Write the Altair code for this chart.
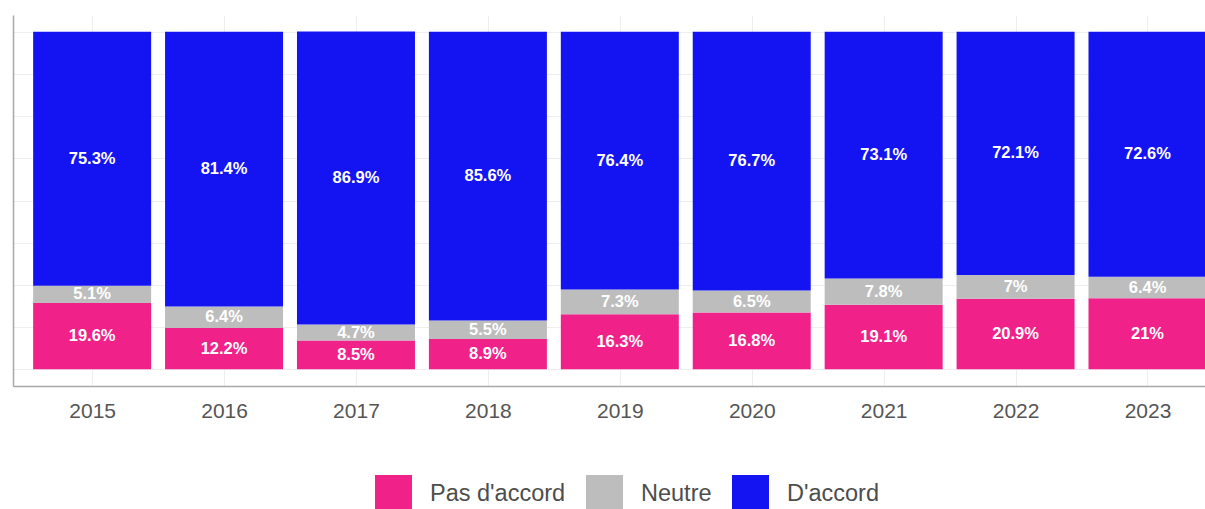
import altair as alt
import pandas as pd

# Survey answers per year (percent)
years = [2015, 2016, 2017, 2018, 2019, 2020, 2021, 2022, 2023]
pas_daccord = [19.6, 12.2, 8.5, 8.9, 16.3, 16.8, 19.1, 20.9, 21.0]
neutre = [5.1, 6.4, 4.7, 5.5, 7.3, 6.5, 7.8, 7.0, 6.4]
daccord = [75.3, 81.4, 86.9, 85.6, 76.4, 76.7, 73.1, 72.1, 72.6]

categories = ["Pas d'accord", "Neutre", "D'accord"]
colors = ["#F0228A", "#BDBDBD", "#1414F2"]

rows = []
for i, y in enumerate(years):
    for rank, (cat, series) in enumerate(zip(categories, [pas_daccord, neutre, daccord])):
        v = series[i]
        rows.append({"year": y, "answer": cat, "rank": rank, "value": v,
                     "label": f"{v:g}%"})
df = pd.DataFrame(rows)

font = "Liberation Sans"

base = alt.Chart(df).transform_stack(
    stack="value",
    groupby=["year"],
    as_=["y0", "y1"],
    sort=[alt.SortField("rank", order="ascending")],
    offset="zero",
).transform_calculate(mid="(datum.y0 + datum.y1) / 2")

x_enc = alt.X(
    "year:Q",
    scale=alt.Scale(domain=[2014.438, 2023.398], nice=False, zero=False),
    axis=alt.Axis(
        values=years, format="d", title=None, ticks=False,
        labelFontSize=21, labelColor="#555555", labelFont=font, labelPadding=14,
        domainColor="#A8A8A8", domainWidth=1.5,
        grid=True, gridColor="#EEEEEE", gridWidth=1,
    ),
)
y_scale = alt.Scale(domain=[-5, 105], nice=False, zero=False)

bars = base.mark_bar(width=118, clip=True).encode(
    x=x_enc,
    y=alt.Y(
        "y0:Q",
        scale=y_scale,
        axis=alt.Axis(
            title=None, labels=False, ticks=False,
            values=[0, 12.5, 25, 37.5, 50, 62.5, 75, 87.5, 100],
            domainColor="#A8A8A8", domainWidth=1.5,
            grid=True, gridColor="#EEEEEE", gridWidth=1,
        ),
    ),
    y2="y1:Q",
    color=alt.Color(
        "answer:N",
        scale=alt.Scale(domain=categories, range=colors),
        legend=alt.Legend(
            title=None, orient="none", direction="horizontal",
            legendX=362, legendY=460,
            symbolType="square", symbolSize=1369, symbolStrokeWidth=0,
            symbolOpacity=1,
            labelFontSize=23.5, labelColor="#4D4D4D", labelFont=font,
            labelOffset=18, columnPadding=20,
        ),
    ),
)

labels = base.mark_text(
    color="white", fontSize=16.5, fontWeight="bold", font=font, clip=True,
).encode(
    x=alt.X("year:Q"),
    y=alt.Y("mid:Q", scale=y_scale),
    text="label:N",
)

chart = (
    alt.layer(bars, labels)
    .properties(
        width=1192,
        height=371,
        padding={"left": 13, "top": 15, "right": 0, "bottom": 123},
        autosize=alt.AutoSizeParams(type="none"),
        background="white",
    )
    .configure_view(stroke=None)
)

chart.save("out.html", embed_options={"renderer": "svg", "actions": False})
